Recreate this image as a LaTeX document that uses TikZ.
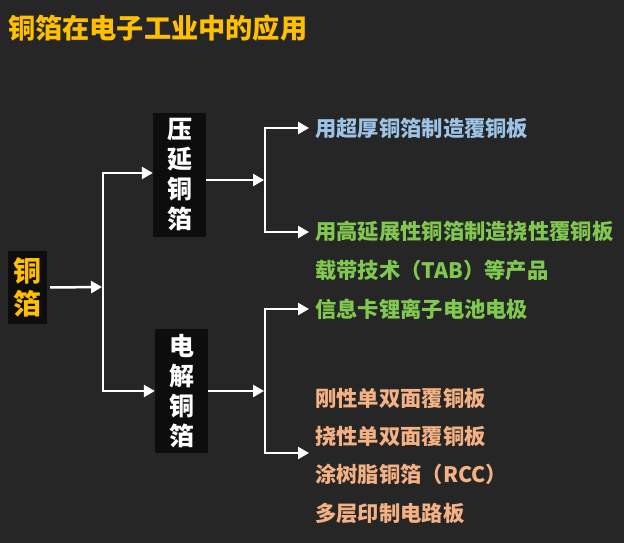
\documentclass[tikz,border=0pt]{standalone}
\usepackage{fontspec}
\setmainfont{Noto Sans CJK SC}
\usetikzlibrary{arrows.meta}
\definecolor{bg}{HTML}{262626}
\definecolor{boxbg}{HTML}{0D0D0D}
\definecolor{ttl}{HTML}{FFC000}
\definecolor{cblue}{HTML}{9DC3E6}
\definecolor{cgreen}{HTML}{80C850}
\definecolor{corange}{HTML}{F4B183}
\tikzset{
  ln/.style={draw=white, line width=2.5pt},
  arr/.style={ln, -{Triangle[length=11pt,width=12pt]}},
  vbox/.style={fill=boxbg, text=white, align=center, inner sep=0pt,
    font=\bfseries\fontsize{25}{30}\selectfont},
  item/.style={anchor=west, inner sep=0pt, font=\bfseries\fontsize{21.3}{24}\selectfont},
}
\begin{document}
\begin{tikzpicture}[x=1pt,y=1pt]
\fill[bg] (0,0) rectangle (624,543);
\useasboundingbox (0,0) rectangle (624,543);
\node[anchor=west, inner sep=0pt, text=ttl, font=\bfseries\fontsize{27.2}{30}\selectfont] (title) at (8,515) {铜箔在电子工业中的应用};
\node[fill=boxbg, text=ttl, align=center, inner sep=0pt, minimum width=39pt, minimum height=73pt,
  font=\bfseries\fontsize{28}{33}\selectfont] (root) at (27.5,255.5) {铜\\箔};
\node[vbox, minimum width=53pt, minimum height=124pt] (ya) at (179.5,368) {压\\延\\铜\\箔};
\node[vbox, minimum width=53pt, minimum height=124pt] (dj) at (181.5,152) {电\\解\\铜\\箔};
\node[item, text=cblue] (t1) at (315,415) {用超厚铜箔制造覆铜板};
\node[item, text=cgreen] (t2) at (315,312) {用高延展性铜箔制造挠性覆铜板};
\node[item, text=cgreen] (t3) at (315,273) {载带技术（TAB）等产品};
\node[item, text=cgreen] (t4) at (315,234) {信息卡锂离子电池电极};
\node[item, text=corange] (t5) at (315,145) {刚性单双面覆铜板};
\node[item, text=corange] (t6) at (315,107) {挠性单双面覆铜板};
\node[item, text=corange] (t7) at (315,69) {涂树脂铜箔（RCC）};
\node[item, text=corange] (t8) at (315,30) {多层印制电路板};
% first level
\coordinate (j0) at (103,256);
\coordinate (ja) at (103,370);
\coordinate (jb) at (103,152);
\draw[arr] ([xshift=3pt]root.east) -- ([xshift=-1pt]j0);
\draw[ln] ([yshift=1.25pt]ja) -- ([yshift=-1.25pt]jb);
\draw[arr] ([xshift=-1.25pt]ja) -- (ja -| ya.west);
\draw[arr] ([xshift=-1.25pt]jb) -- (jb -| dj.west);
% second level top
\coordinate (k0) at (265,363);
\coordinate (ka) at (265,415);
\coordinate (kb) at (265,311);
\draw[arr] (k0 -| ya.east) -- ([xshift=-1pt]k0);
\draw[ln] ([yshift=1.25pt]ka) -- ([yshift=-1.25pt]kb);
\draw[arr] ([xshift=-1.25pt]ka) -- ([xshift=-6pt]ka -| t1.west);
\draw[arr] ([xshift=-1.25pt]kb) -- ([xshift=-6pt]kb -| t2.west);
% second level bottom
\coordinate (m0) at (265,152);
\coordinate (ma) at (265,234);
\coordinate (mb) at (265,90);
\coordinate (me) at (309,90);
\draw[arr] (m0 -| dj.east) -- ([xshift=-1pt]m0);
\draw[ln] ([yshift=1.25pt]ma) -- ([yshift=-1.25pt]mb);
\draw[arr] ([xshift=-1.25pt]ma) -- ([xshift=-6pt]ma -| t4.west);
\draw[arr] ([xshift=-1.25pt]mb) -- (me);
\end{tikzpicture}
\end{document}
